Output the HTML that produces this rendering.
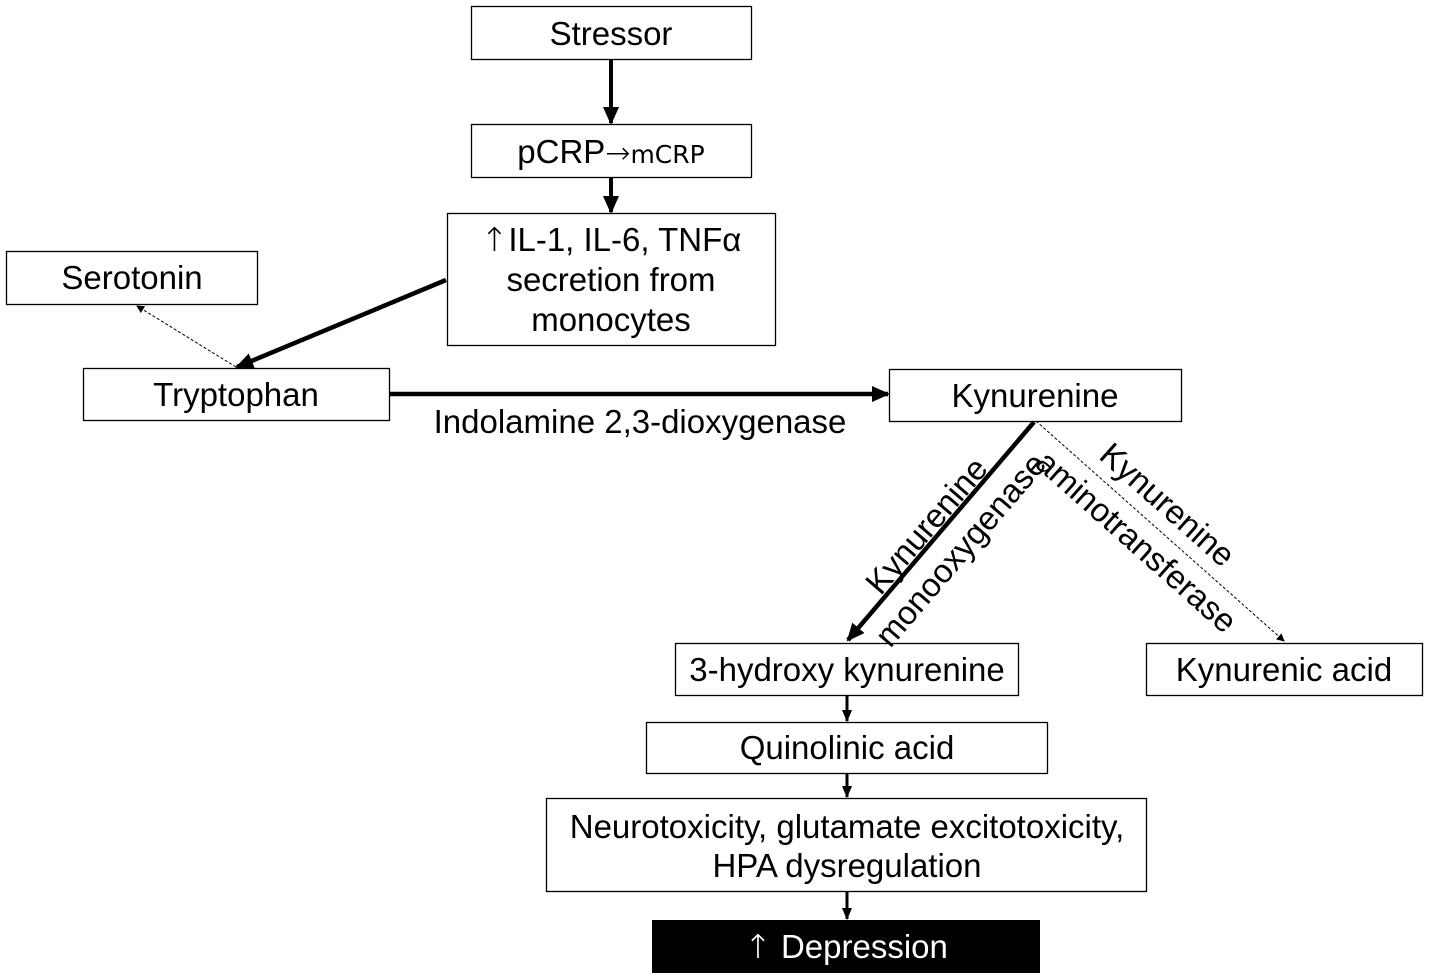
<!DOCTYPE html>
<html><head><meta charset="utf-8"><style>
html,body{margin:0;padding:0;background:#fff;}
svg{display:block;}
text{font-family:"Liberation Sans",Arial,sans-serif;font-size:33px;fill:#000;}
.ar{font-family:"DejaVu Sans",sans-serif;font-weight:200;}
</style></head><body>
<svg width="1429" height="979" viewBox="0 0 1429 979" xmlns="http://www.w3.org/2000/svg">
<defs>
<marker id="ah" markerWidth="8" markerHeight="8" refX="7" refY="4" orient="auto" markerUnits="userSpaceOnUse" viewBox="0 0 8 8">
<path d="M0,0 L8,4 L0,8 z" fill="#000"/></marker>
<marker id="ahb" markerWidth="18" markerHeight="16" refX="16" refY="8" orient="auto" markerUnits="userSpaceOnUse" viewBox="0 0 18 16">
<path d="M0,0 L18,8 L0,16 z" fill="#000"/></marker>
<marker id="ahs" markerWidth="12" markerHeight="10" refX="11" refY="5" orient="auto" markerUnits="userSpaceOnUse" viewBox="0 0 12 10">
<path d="M0,0 L12,5 L0,10 z" fill="#000"/></marker>
</defs>
<g fill="#fff" stroke="#000" stroke-width="1.3">
<rect x="471.5" y="6.5" width="280" height="53"/>
<rect x="471.5" y="124.5" width="280" height="53"/>
<rect x="447.5" y="213.5" width="328" height="132"/>
<rect x="6.5" y="251.5" width="251" height="53"/>
<rect x="83.5" y="368.5" width="306" height="52"/>
<rect x="889.5" y="369.5" width="292" height="52"/>
<rect x="675.5" y="643.5" width="343" height="52"/>
<rect x="1146.5" y="643.5" width="276" height="52"/>
<rect x="646.5" y="722.5" width="401" height="51"/>
<rect x="546.5" y="798.5" width="600" height="93"/>
</g>
<rect x="652" y="920" width="388" height="53" fill="#000"/>
<g stroke="#000" fill="none">
<line x1="611" y1="59" x2="611" y2="123" stroke-width="4" marker-end="url(#ahb)"/>
<line x1="611" y1="178" x2="611" y2="212" stroke-width="4" marker-end="url(#ahb)"/>
<line x1="446" y1="280" x2="237" y2="367" stroke-width="4.5" marker-end="url(#ahb)"/>
<line x1="236" y1="367" x2="137" y2="306" stroke-width="1" stroke-dasharray="3,2" marker-end="url(#ah)"/>
<line x1="390" y1="394" x2="888" y2="394" stroke-width="4.5" marker-end="url(#ahb)"/>
<line x1="1034" y1="422" x2="848" y2="640" stroke-width="4.5" marker-end="url(#ahb)"/>
<line x1="1036" y1="421" x2="1284" y2="641" stroke-width="1" stroke-dasharray="3,2" marker-end="url(#ah)"/>
<line x1="847" y1="696" x2="847" y2="721" stroke-width="3" marker-end="url(#ahs)"/>
<line x1="847" y1="774" x2="847" y2="797" stroke-width="3" marker-end="url(#ahs)"/>
<line x1="847" y1="892" x2="847" y2="919" stroke-width="3" marker-end="url(#ahs)"/>
</g>
<g text-anchor="middle">
<text x="611" y="45">Stressor</text>
<text x="611" y="163">pCRP<tspan class="ar" font-size="30">→</tspan><tspan font-family="'DejaVu Sans',sans-serif" font-size="25">mCRP</tspan></text>
<text x="611" y="251"><tspan class="ar">↑</tspan>IL-1, IL-6, TNFα</text>
<text x="611" y="291">secretion from</text>
<text x="611" y="331">monocytes</text>
<text x="132" y="289">Serotonin</text>
<text x="236" y="406">Tryptophan</text>
<text x="1035" y="407">Kynurenine</text>
<text x="640" y="433">Indolamine 2,3-dioxygenase</text>
<text x="847" y="681">3-hydroxy kynurenine</text>
<text x="1284" y="681">Kynurenic acid</text>
<text x="847" y="759">Quinolinic acid</text>
<text x="847" y="838">Neurotoxicity, glutamate excitotoxicity,</text>
<text x="847" y="877">HPA dysregulation</text>
<text x="846" y="958" style="fill:#fff"><tspan class="ar" style="fill:#fff">↑</tspan> Depression</text>
<text transform="translate(935,533) rotate(-49.4)">Kynurenine</text>
<text transform="translate(969,557) rotate(-49.4)">monooxygenase</text>
<text transform="translate(1160,513) rotate(41.6)">Kynurenine</text>
<text transform="translate(1129,550) rotate(41.6)">aminotransferase</text>
</g>
</svg>
</body></html>
